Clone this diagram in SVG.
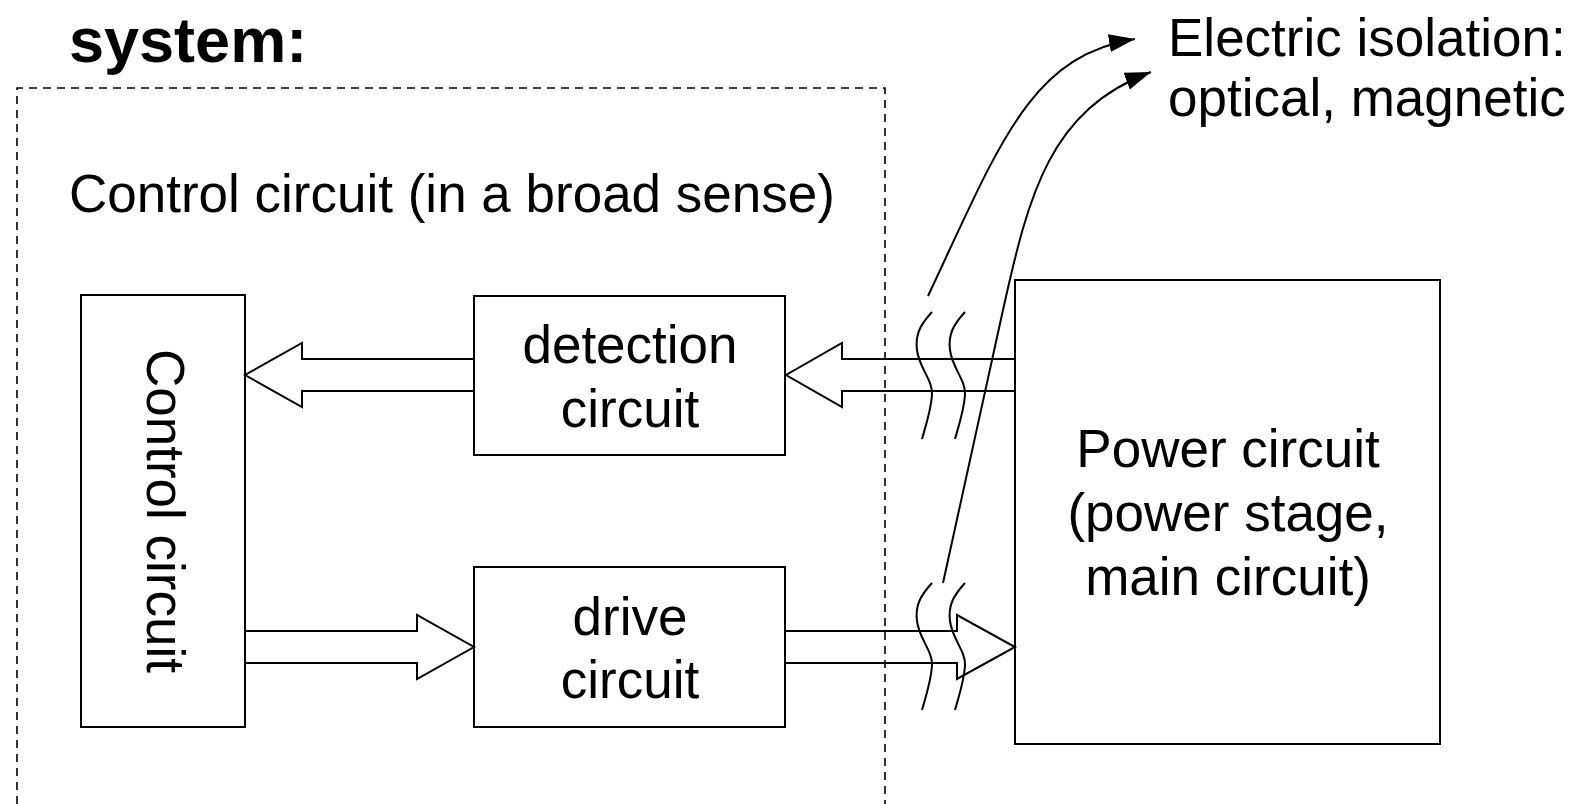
<svg xmlns="http://www.w3.org/2000/svg" width="1582" height="804" viewBox="0 0 1582 804">
  <style>
    .box { fill: #fff; stroke: #000; stroke-width: 2; }
    .arrow { fill: none; stroke: #000; stroke-width: 2; stroke-linejoin: miter; }
    .wave { fill: none; stroke: #000; stroke-width: 2; }
    .dash { fill: none; stroke: #000; stroke-width: 1.6; stroke-dasharray: 8 6; }
    .curve { fill: none; stroke: #000; stroke-width: 2; }
    .t { font-family: "Liberation Sans", Arial, sans-serif; font-size: 53px; fill: #000; }
    .c { text-anchor: middle; }
    .title { font-family: "Liberation Sans", Arial, sans-serif; font-size: 63px; font-weight: bold; fill: #000; }
  </style>
  <defs>
    <marker id="head" markerUnits="userSpaceOnUse" markerWidth="28" markerHeight="20" refX="26" refY="9" orient="auto">
      <path d="M0,0 L26,9 L0,18 Z" fill="#000"/>
    </marker>
  </defs>
  <rect width="1582" height="804" fill="#fff"/>

  <text class="title" x="69" y="62">system:</text>

  <g id="system-boundary">
    <path class="dash" d="M17,804 V88 H885 V804"/>
    <text class="t" x="69" y="212">Control circuit (in a broad sense)</text>
  </g>

  <g id="control-circuit">
    <rect class="box" x="81" y="295" width="164" height="432"/>
    <text class="t c" transform="translate(147,511) rotate(90)">Control circuit</text>
  </g>

  <g id="detection-circuit">
    <rect class="box" x="474" y="296" width="311" height="159"/>
    <text class="t c" x="630" y="363">detection</text>
    <text class="t c" x="630" y="427">circuit</text>
  </g>

  <g id="drive-circuit">
    <rect class="box" x="474" y="567" width="311" height="160"/>
    <text class="t c" x="630" y="635">drive</text>
    <text class="t c" x="630" y="698">circuit</text>
  </g>

  <g id="power-circuit">
    <rect class="box" x="1015" y="280" width="425" height="464"/>
    <text class="t c" x="1228" y="467">Power circuit</text>
    <text class="t c" x="1228" y="531">(power stage,</text>
    <text class="t c" x="1228" y="595">main circuit)</text>
  </g>

  <g id="isolation-label">
    <text class="t" x="1168" y="56">Electric isolation:</text>
    <text class="t" x="1168" y="116">optical, magnetic</text>
  </g>

  <g id="connectors">
    <polyline class="arrow" points="474,359 302,359 302,343 245,375 302,407 302,391 474,391"/>
    <polyline class="arrow" points="1015,359 842,359 842,343 786,375 842,407 842,391 1015,391"/>
    <polyline class="arrow" points="245,631 417,631 417,615 474,647 417,679 417,663 245,663"/>
    <polyline class="arrow" points="785,631 957,631 957,615 1015,647 957,679 957,663 785,663"/>

    <path class="wave" d="M932,312 C920,325 915,335 917,350 C919,368 933,380 932,395 C931,410 926,425 922,439"/>
    <path class="wave" d="M965,312 C953,325 948,335 950,350 C952,368 966,380 965,395 C964,410 959,425 955,439"/>
    <path class="wave" d="M932,583 C920,596 915,606 917,621 C919,639 933,651 932,666 C931,681 926,696 922,710"/>
    <path class="wave" d="M965,583 C953,596 948,606 950,621 C952,639 966,651 965,666 C964,681 959,696 955,710"/>

    <path class="curve" d="M928,296 C1000,143 1030,56 1135,39" marker-end="url(#head)"/>
    <path class="curve" d="M943,583 L1003,310 C1029,193 1050,110 1151,72" marker-end="url(#head)"/>
  </g>
</svg>
